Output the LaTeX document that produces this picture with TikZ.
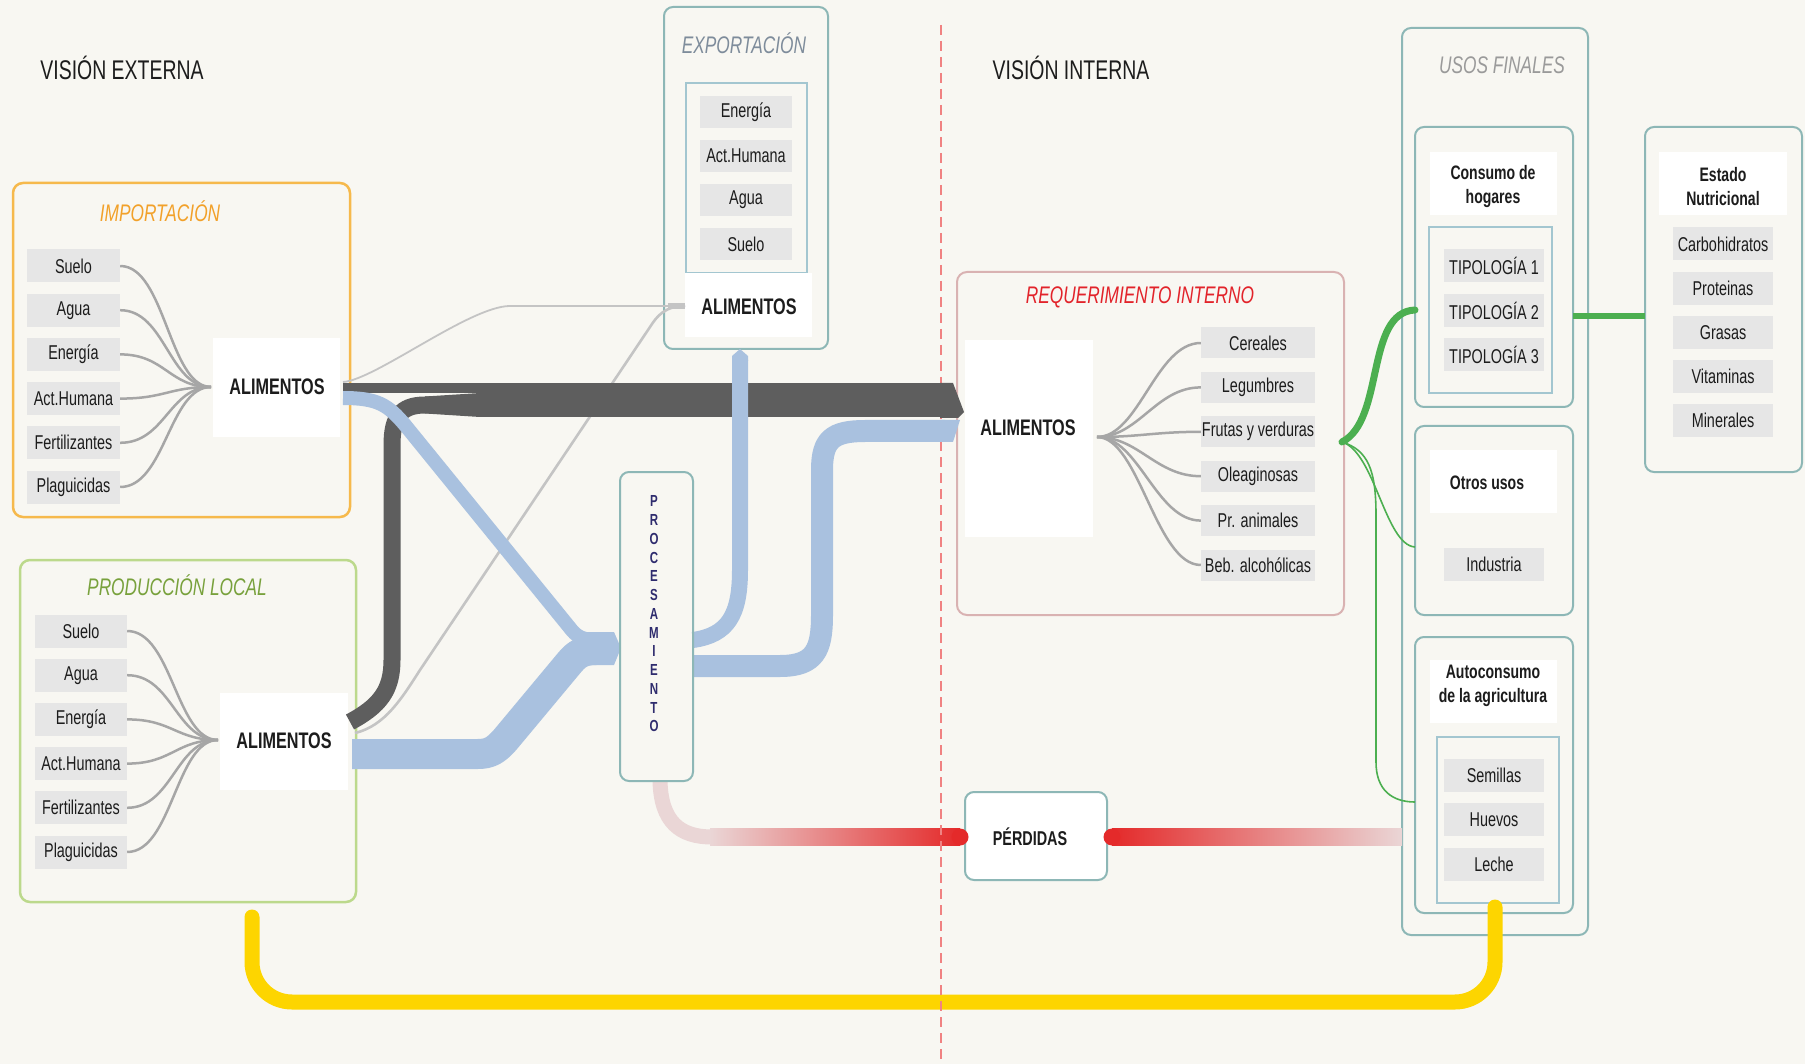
\documentclass[tikz,border=0pt]{standalone}
\usepackage{fontspec}
\setmainfont{Liberation Sans}[FakeStretch=0.72]
\usetikzlibrary{calc}
\definecolor{bg}{HTML}{F8F7F2}
\definecolor{itemgrey}{HTML}{E6E6E6}
\definecolor{tealline}{HTML}{8DB7B6}
\definecolor{innerline}{HTML}{A3C6D0}
\definecolor{impline}{HTML}{F6B94C}
\definecolor{imptext}{HTML}{F2A12A}
\definecolor{prodline}{HTML}{BCD98C}
\definecolor{prodtext}{HTML}{78A13C}
\definecolor{reqline}{HTML}{D9B2B2}
\definecolor{reqtext}{HTML}{E2232A}
\definecolor{exptext}{HTML}{7E8C9B}
\definecolor{usostext}{HTML}{9A9A9A}
\definecolor{wiregrey}{HTML}{A6A6A6}
\definecolor{paleline}{HTML}{C4C4C4}
\definecolor{darkband}{HTML}{5E5E5E}
\definecolor{blueband}{HTML}{A9C1DF}
\definecolor{greenflow}{HTML}{4CAF50}
\definecolor{yellowflow}{HTML}{FDD500}
\definecolor{redflow}{HTML}{E42A2A}
\definecolor{redfade}{HTML}{EAD6D6}
\definecolor{redmid}{HTML}{E66A6A}
\definecolor{procink}{HTML}{2F2C6E}
\definecolor{dashred}{HTML}{F08282}
\definecolor{ink}{HTML}{1C1C1C}

\begin{document}
\begin{tikzpicture}[x=1pt,y=-1pt,
  item/.style={fill=itemgrey, text=ink, inner sep=0pt, minimum width=93pt, minimum height=33pt, font=\fontsize{20}{22}\selectfont},
  heading/.style={text=ink, font=\fontsize{27}{30}\selectfont},
  grouptitle/.style={font=\fontsize{24}{26}\selectfont\itshape},
  boldlabel/.style={text=ink, font=\fontsize{19.5}{24}\selectfont\bfseries, align=center},
  alim/.style={text=ink, font=\fontsize{22.5}{26}\selectfont\bfseries},
  frame/.style={draw=tealline, line width=2pt, rounded corners=9pt},
  innerframe/.style={draw=innerline, line width=1.5pt},
  wire/.style={draw=wiregrey, line width=2.5pt},
  flow/.style={line cap=butt, line join=round}]

% canvas
\fill[bg] (0,0) rectangle (1805,1064);
\useasboundingbox (0,0) rectangle (1805,1064);

% headings
\node[heading] (vext) at (122,68) {VISIÓN EXTERNA};
\node[heading] (vint) at (1071,68) {VISIÓN INTERNA};

% ---------- group frames ----------
\draw[draw=impline, line width=2.5pt, rounded corners=10pt] (13,183) rectangle (350,517);
\node[grouptitle, text=imptext] (imptitle) at (160,211) {IMPORTACIÓN};
\draw[draw=prodline, line width=2.5pt, rounded corners=10pt] (20,560) rectangle (356,902);
\node[grouptitle, text=prodtext] (prodtitle) at (177,585) {PRODUCCIÓN LOCAL};
\draw[frame] (664,7) rectangle (828,349);
\node[grouptitle, text=exptext] (exptitle) at (744,43) {EXPORTACIÓN};
\draw[innerframe] (686,83) rectangle (807,273);
\draw[draw=reqline, line width=2pt, rounded corners=10pt] (957,272) rectangle (1344,615);
\node[grouptitle, text=reqtext] (reqtitle) at (1140,297) {REQUERIMIENTO INTERNO};
\draw[frame] (1402,28) rectangle (1588,935);
\node[grouptitle, text=usostext] (usostitle) at (1502,65) {USOS FINALES};
\draw[frame] (1415,127) rectangle (1573,407);
\draw[frame] (1415,426) rectangle (1573,615);
\draw[frame] (1415,637) rectangle (1573,913);
\draw[frame] (1645,127) rectangle (1802,472);

% white panels
\fill[white] (213,338) rectangle (340,437);
\fill[white] (220,693) rectangle (348,790);
\fill[white] (685,273) rectangle (812,337);
\fill[white] (965,340) rectangle (1093,537);
\fill[white] (1430,152) rectangle (1557,215);
\fill[white] (1430,450) rectangle (1557,513);
\fill[white] (1430,660) rectangle (1557,723);
\fill[white] (1659,152) rectangle (1787,215);
\draw[innerframe] (1429,227) rectangle (1552,393);
\draw[innerframe] (1437,737) rectangle (1559,903);

% ---------- yellow return flow ----------
\coordinate (yl) at (252,917);
\coordinate (yr) at (1495,907);
\draw[yellowflow, line width=15pt, line cap=round, rounded corners=40pt] (yl) -- (252,1002) -- (1495,1002) -- (yr);

% ---------- losses ----------
\node[draw=tealline, line width=2pt, fill=white, rounded corners=9pt, minimum width=142pt, minimum height=88pt, inner sep=0pt] (perd) at (1036,836) {};
\node[alim, font=\fontsize{20}{22}\selectfont\bfseries] (perdtext) at (1030,837) {PÉRDIDAS};
\coordinate (procbot) at (660,781);
\draw[redfade, line width=15pt, line cap=butt] (procbot) .. controls (661,822) and (680,837) .. (712,837);
\shade[left color=redfade, middle color=redmid, right color=redflow] (710,828.5) rectangle (960,845.5);
\fill[redflow] (960,837) circle (8.5);
\shade[left color=redflow, middle color=redmid, right color=redfade] (1112,828.5) rectangle (1402,845.5);
\fill[redflow] (1112,837) circle (8.5);

% divider between external and internal view
\draw[dashred, line width=2.5pt, dash pattern=on 10pt off 6pt] (941,25) -- (941,1060);

% ---------- export side lines ----------
\coordinate (impout) at (343,382);
\coordinate (prodout) at (355,733);
\coordinate (expin) at (685,306);
\draw[paleline, line width=1.8pt] (impout) .. controls (375,380) and (470,306) .. (510,306) -- (expin);
\draw[paleline, line width=2.6pt] (prodout) .. controls (385,726) and (402,698) .. (420,670) -- (650,327) .. controls (657,316) and (665,306) .. (expin);
\draw[paleline, line width=6pt] (668,306) -- (expin);

% ---------- dark flows to internal requirement ----------
\coordinate (reqin) at (953,400);
\fill[darkband] (343,383) rectangle (953,393);
\draw[darkband, line width=17pt, flow] (350,722) .. controls (380,706) and (392,690) .. (392,660) -- (392,445) .. controls (392,418) and (400,405) .. (425,405) -- (945,405);
\fill[darkband] (425,396.5) -- (480,393) -- (953,393) -- (953,417) -- (480,417) -- (425,413.5) -- cycle;
\fill[darkband] (940,383) -- (953,383) -- (964,412) -- (958,418) -- (940,418) -- cycle;

% ---------- blue flows through processing ----------
\draw[blueband, line width=14pt, flow] (343,398) .. controls (378,398) and (388,405) .. (405,425) -- (570,628) .. controls (576,636) and (582,640) .. (596,640);
\draw[blueband, line width=30pt, flow] (352,754) -- (478,754) .. controls (490,754) and (496,750) .. (505,740) -- (570,662) .. controls (576,655) and (582,650) .. (596,650);
\fill[blueband] (585,632) -- (614,632) -- (621,648) -- (614,665) -- (585,665) -- cycle;
\draw[blueband, line width=16pt, flow] (693,640) .. controls (728,635) and (740,615) .. (740,570) -- (740,360);
\fill[blueband] (732,361) -- (732,356) -- (740,349) -- (748,356) -- (748,361) -- cycle;
\draw[blueband, line width=22pt, flow] (693,666) -- (780,666) .. controls (815,666) and (822,650) .. (822,615) -- (822,470) .. controls (822,440) and (832,431) .. (865,431) -- (945,431);
\fill[blueband] (940,420) -- (960,420) -- (953,442) -- (940,442) -- cycle;

% processing
\draw[frame] (620,472) rectangle (693,781);
\node[text=procink, font=\fontsize{16}{18.75}\selectfont\bfseries, align=center] (proctext) at (654,614) {P\\R\\O\\C\\E\\S\\A\\M\\I\\E\\N\\T\\O};

% ---------- importation ----------
\coordinate (impc) at (211,387);
\foreach \t [count=\i] in {Suelo,Agua,Energía,Act.Humana,Fertilizantes,Plaguicidas}
  \node[item] (imp\i) at (73.5,{266+44.2*(\i-1)}) {\t};
\foreach \i in {1,...,6}
  \draw[wire] (imp\i.east) .. controls +(45,0) and +(-42,0) .. (impc);
\node[alim] (impal) at (277,387) {ALIMENTOS};

% ---------- local production ----------
\coordinate (prodc) at (218,740);
\foreach \t [count=\i] in {Suelo,Agua,Energía,Act.Humana,Fertilizantes,Plaguicidas}
  \node[item, minimum width=92pt] (prod\i) at (81,{631+44.2*(\i-1)}) {\t};
\foreach \i in {1,...,6}
  \draw[wire] (prod\i.east) .. controls +(45,0) and +(-42,0) .. (prodc);
\node[alim] (prodal) at (284,741) {ALIMENTOS};

% ---------- exportation ----------
\foreach \t [count=\i] in {Energía,Act.Humana,Agua,Suelo}
  \node[item, minimum width=92pt, minimum height=32pt] (exp\i) at (746,{112+44*(\i-1)}) {\t};
\node[alim] (expal) at (749,307) {ALIMENTOS};

% ---------- internal requirement ----------
\coordinate (reqc) at (1097,437);
\foreach \t [count=\i] in {Cereales,Legumbres,Frutas y verduras,Oleaginosas,Pr. animales,Beb. alcohólicas}
  \node[item, minimum width=114pt, minimum height=31pt] (req\i) at (1258,{343+44.4*(\i-1)}) {\t};
\foreach \i in {1,...,6}
  \draw[wire] (reqc) .. controls +(42,0) and +(-45,0) .. (req\i.west);
\node[alim] (reqal) at (1028,428) {ALIMENTOS};

% ---------- final uses ----------
\node[boldlabel] (cons) at (1493,187) {Consumo de\\hogares};
\foreach \i in {1,2,3}
  \node[item, minimum width=100pt] (tip\i) at (1494,{266+44.5*(\i-1)}) {TIPOLOGÍA \i};
\node[boldlabel] (otros) at (1487,483) {Otros usos};
\node[item, minimum width=100pt] (ind) at (1494,564) {Industria};
\node[boldlabel] (auto) at (1493,686) {Autoconsumo\\de la agricultura};
\foreach \t [count=\i] in {Semillas,Huevos,Leche}
  \node[item, minimum width=100pt] (auto\i) at (1494,{775+44.5*(\i-1)}) {\t};

% nutritional state
\node[boldlabel] (estado) at (1723,187) {Estado\\Nutricional};
\foreach \t [count=\i] in {Carbohidratos,Proteinas,Grasas,Vitaminas,Minerales}
  \node[item, minimum width=100pt] (nut\i) at (1723,{244+44.2*(\i-1)}) {\t};

% ---------- green distribution flows ----------
\coordinate (gsrc) at (1342,442);
\coordinate (gcons) at (1415,310);
\coordinate (gotros) at (1415,547);
\coordinate (gauto) at (1415,802);
\draw[greenflow, line width=7pt, line cap=round] (gsrc) .. controls (1385,420) and (1365,312) .. (gcons);
\draw[greenflow, line width=1.6pt] (gsrc) .. controls (1375,452) and (1385,545) .. (gotros);
\draw[greenflow, line width=1.6pt] (gsrc) .. controls (1368,450) and (1376,470) .. (1376,515) -- (1376,762) .. controls (1376,790) and (1392,802) .. (gauto);
\draw[greenflow, line width=6pt] (1573,316) -- (1645,316);

\end{tikzpicture}
\end{document}
